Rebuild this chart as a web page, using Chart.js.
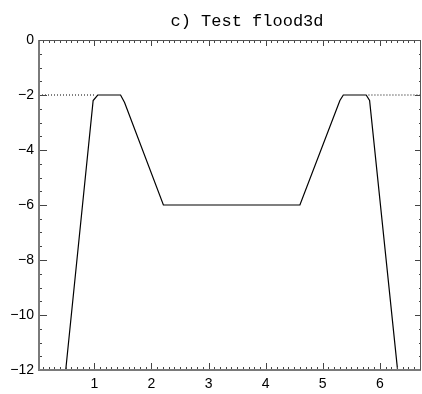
<!DOCTYPE html>
<html>
<head>
<meta charset="utf-8">
<script src="https://cdn.jsdelivr.net/npm/chart.js@4"></script>
<style>
html,body{margin:0;padding:0;background:#fff;}
#wrap{width:422px;height:394px;position:relative;}
</style>
</head>
<body>
<div id="wrap"><canvas id="c" width="422" height="394"></canvas></div>
<script>
const titleText = "c) Test flood3d";
const xValues = [0.032, 0.50, 0.98, 1.06, 1.46, 1.53, 2.21, 4.60, 5.30, 5.36, 5.76, 5.82, 6.31, 6.72];
const yValues = [-12, -12, -2.2, -2, -2, -2.27, -6, -6, -2.2, -2, -2, -2.2, -12, -12];
const dotLeftX = [0.032, 1.0];
const dotRightX = [5.8, 6.72];
const dotLevel = -2;
const xTicks = [1, 2, 3, 4, 5, 6];
const yTicks = [-12, -10, -8, -6, -4, -2, 0];
const xRange = [0.032, 6.72];
const yRange = [-12, 0];

const lineData = xValues.map((x, i) => ({x: x, y: yValues[i]}));
const dotL = dotLeftX.map(x => ({x: x, y: dotLevel}));
const dotR = dotRightX.map(x => ({x: x, y: dotLevel}));

const frameTicks = {
  id: 'frameTicks',
  afterDraw(chart) {
    const ctx = chart.ctx;
    const a = chart.chartArea;
    const xs = chart.scales.x, ys = chart.scales.y;
    ctx.save();
    ctx.strokeStyle = '#444';
    ctx.lineWidth = 1;
    ctx.beginPath();
    for (let k = Math.ceil(xRange[0] * 10); k <= Math.floor(xRange[1] * 10); k++) {
      const v = k / 10;
      const px = Math.round(xs.getPixelForValue(v)) + 0.5;
      const major = (k % 10 === 0);
      const lb = major ? 7 : 3;
      const lt = major ? 6 : 3;
      ctx.moveTo(px, a.bottom); ctx.lineTo(px, a.bottom - lb);
      ctx.moveTo(px, a.top); ctx.lineTo(px, a.top + lt);
    }
    for (let k = yRange[0] * 2; k <= yRange[1] * 2; k++) {
      const v = k / 2;
      const py = Math.round(ys.getPixelForValue(v)) + 0.5;
      const major = (k % 4 === 0);
      const ll = major ? 8 : 3;
      const lr = major ? 6 : 2;
      ctx.moveTo(a.left, py); ctx.lineTo(a.left + ll, py);
      ctx.moveTo(a.right, py); ctx.lineTo(a.right - lr, py);
    }
    ctx.stroke();
    ctx.strokeStyle = '#7a7a7a';
    ctx.lineWidth = 2;
    ctx.beginPath();
    ctx.moveTo(a.left, a.top); ctx.lineTo(a.left, a.bottom + 1);
    ctx.moveTo(a.left - 1, a.bottom); ctx.lineTo(a.right, a.bottom);
    ctx.stroke();
    ctx.lineWidth = 1;
    ctx.strokeStyle = '#555';
    ctx.beginPath();
    ctx.moveTo(a.left, a.top + 0.5); ctx.lineTo(a.right, a.top + 0.5);
    ctx.moveTo(a.right - 0.5, a.top); ctx.lineTo(a.right - 0.5, a.bottom);
    ctx.stroke();
    ctx.fillStyle = '#000';
    ctx.font = '17px "Liberation Mono"';
    ctx.textAlign = 'center';
    ctx.textBaseline = 'alphabetic';
    ctx.fillText(titleText, 247, 26);
    ctx.restore();
  }
};

new Chart(document.getElementById('c'), {
  type: 'line',
  data: {
    datasets: [
      {data: dotL, borderColor: '#000', borderWidth: 1, borderDash: [1, 2], pointRadius: 0, tension: 0},
      {data: dotR, borderColor: '#000', borderWidth: 1, borderDash: [1, 2], pointRadius: 0, tension: 0},
      {data: lineData, borderColor: '#000', borderWidth: 1.2, pointRadius: 0, tension: 0}
    ]
  },
  options: {
    responsive: false,
    animation: false,
    events: [],
    layout: {padding: {top: 40, right: 1, left: 0, bottom: 0}},
    plugins: {legend: {display: false}, title: {display: false}, tooltip: {enabled: false}},
    scales: {
      x: {
        type: 'linear', min: xRange[0], max: xRange[1],
        afterBuildTicks: s => { s.ticks = xTicks.map(v => ({value: v})); },
        afterFit: s => { s.height = 24; },
        grid: {display: false, drawTicks: false},
        border: {display: false},
        ticks: {color: '#000', padding: 6, maxRotation: 0, font: {family: 'Liberation Sans', size: 14}, callback: v => String(v)}
      },
      y: {
        type: 'linear', min: yRange[0], max: yRange[1],
        afterBuildTicks: s => { s.ticks = yTicks.map(v => ({value: v})); },
        afterFit: s => { s.width = 39; },
        grid: {display: false, drawTicks: false},
        border: {display: false},
        ticks: {color: '#000', padding: 5, font: {family: 'Liberation Sans', size: 14}, callback: v => (v < 0 ? '\u2212' + Math.abs(v) : String(v))}
      }
    }
  },
  plugins: [frameTicks]
});
</script>
</body>
</html>
